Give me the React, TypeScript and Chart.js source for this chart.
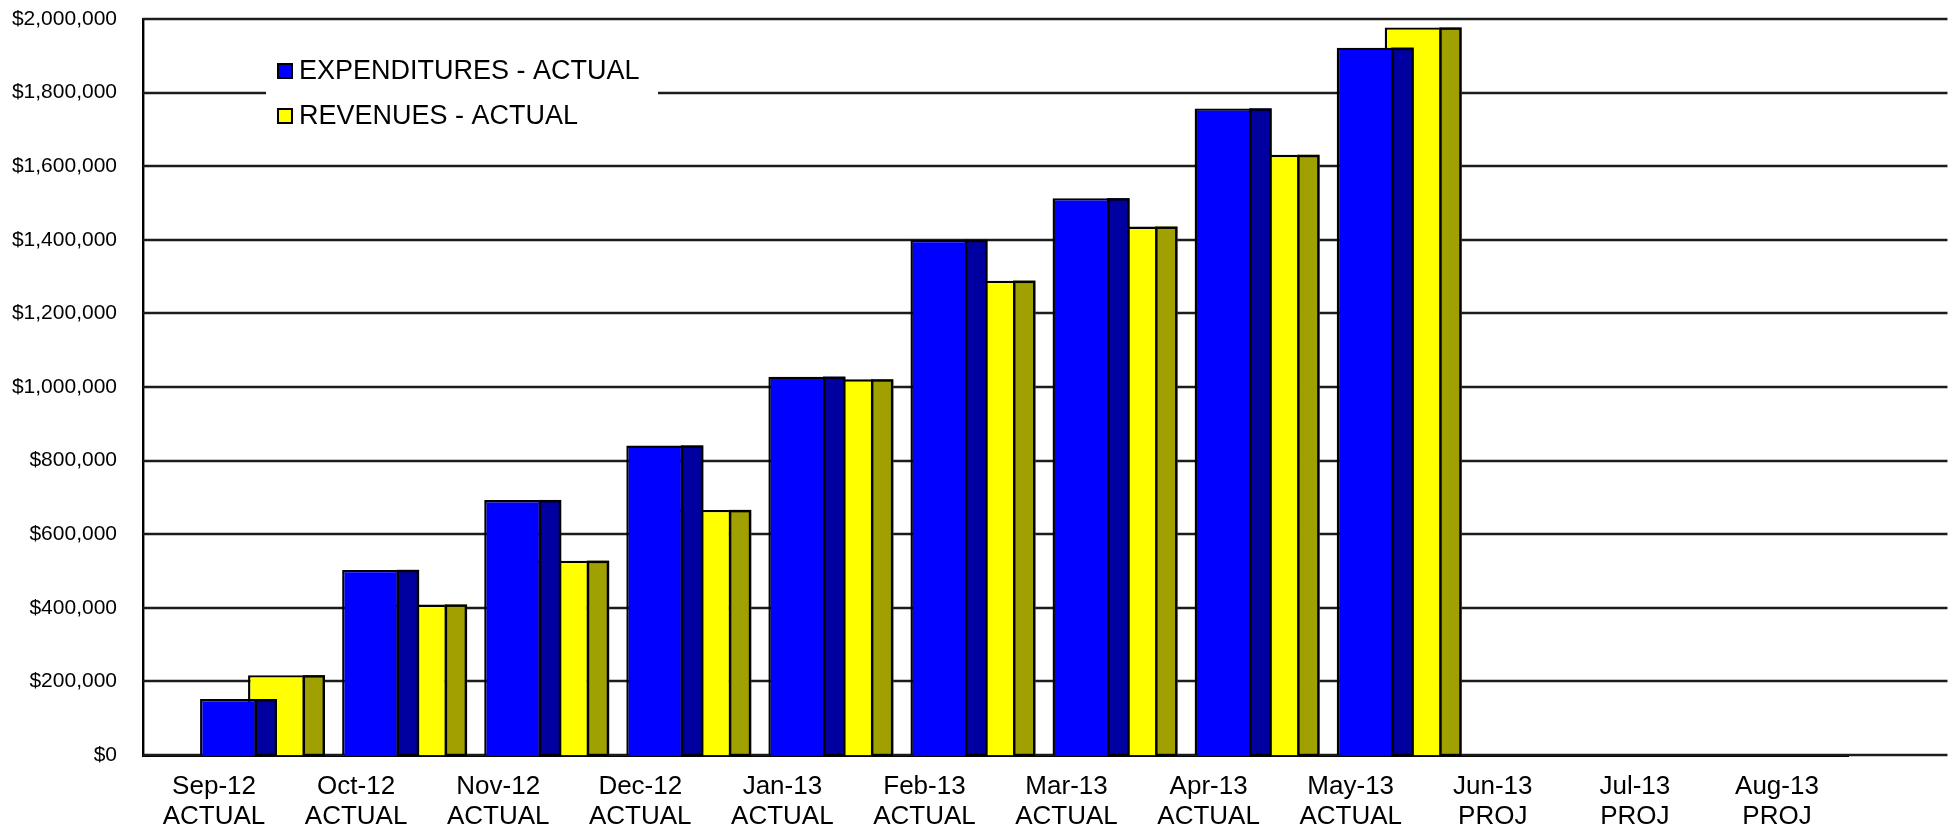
import React, { useEffect, useRef } from "react";
import { Chart, registerables } from "chart.js";

Chart.register(...registerables);

// Months on the category axis and whether each is actual or projected
const MONTHS = ["Sep-12", "Oct-12", "Nov-12", "Dec-12", "Jan-13", "Feb-13", "Mar-13", "Apr-13", "May-13", "Jun-13", "Jul-13", "Aug-13"];
const STATUS = ["ACTUAL", "ACTUAL", "ACTUAL", "ACTUAL", "ACTUAL", "ACTUAL", "ACTUAL", "ACTUAL", "ACTUAL", "PROJ", "PROJ", "PROJ"];

// Cumulative dollars per month (projected months not yet filled in)
const EXPENDITURES = [152000, 503000, 693000, 841000, 1028000, 1400000, 1513000, 1757000, 1922000, null, null, null];
const REVENUES = [217000, 409000, 528000, 666000, 1021000, 1289000, 1436000, 1631000, 1977000, null, null, null];

const SERIES_NAMES = ["EXPENDITURES - ACTUAL", "REVENUES - ACTUAL"];

// Value axis range
const Y_MIN = 0;
const Y_MAX = 2000000;
const Y_STEP = 200000;

// Styling
const FONT = "'Liberation Sans', Arial, Helvetica, sans-serif";
const FRONT_COLORS = ["#0000FF", "#FFFF00"];
const SIDE_COLORS = ["#0000A0", "#A0A000"];
const BORDER_W = 2.4;
const GRID_COLOR = "#1c1c1c";
const GRID_W = 2.4;
const SIDE_RATIO = 0.35; // side face depth relative to the bar's front width
const BAR_SHIFT = 0.271; // bars sit to the right of their category label (fraction of a category)
const GRID_RUNOUT = 0.7; // gridlines run past the category axis (fraction of a category)

const W = 1956;
const H = 828;

const money = (v: number) => "$" + Number(v).toLocaleString("en-US");

const depthPlugin = {
  id: "depthBars",
  beforeDatasetsDraw(chart: any) {
    const { ctx, chartArea, scales } = chart;
    const xs = scales.x;
    const ys = scales.y;
    const cat = xs.getPixelForValue(1) - xs.getPixelForValue(0);
    const gridEnd = chartArea.right + cat * GRID_RUNOUT;

    ctx.save();
    // horizontal gridlines, running beyond the plot's right edge
    ctx.strokeStyle = GRID_COLOR;
    ctx.lineWidth = GRID_W;
    ys.ticks.forEach((t: any) => {
      const py = Math.round(ys.getPixelForValue(t.value));
      ctx.beginPath();
      ctx.moveTo(chartArea.left, py);
      ctx.lineTo(gridEnd, py);
      ctx.stroke();
    });

    // legend panel
    const lx = chartArea.left + 123;
    const ly = chartArea.top + 29;
    const lw = 392;
    const lh = 92;
    ctx.fillStyle = "#FFFFFF";
    ctx.fillRect(lx, ly, lw, lh);
    ctx.font = `27px ${FONT}`;
    ctx.textBaseline = "middle";
    ctx.textAlign = "left";
    chart.data.datasets.forEach((ds: any, i: number) => {
      const cy = ly + 23 + i * 45;
      ctx.fillStyle = "#000";
      ctx.fillRect(lx + 11, cy - 8, 16, 16);
      ctx.fillStyle = ds.backgroundColor;
      ctx.fillRect(lx + 13, cy - 6, 12, 12);
      ctx.fillStyle = "#000";
      ctx.fillText(ds.label, lx + 33, cy + 1);
    });
    ctx.restore();

    // shift the bar groups off the label centres
    ctx.save();
    ctx.translate(cat * BAR_SHIFT, 0);
  },
  afterDatasetDraw(chart: any, args: any) {
    const ctx = chart.ctx;
    const ds = chart.data.datasets[args.index];
    args.meta.data.forEach((el: any, i: number) => {
      if (ds.data[i] == null) return;
      const { x, y, base, width } = el.getProps(["x", "y", "base", "width"], true);
      const depth = width * SIDE_RATIO;
      const xl = x + width / 2 - BORDER_W;
      const xe = x + width / 2 + depth;
      ctx.save();
      ctx.fillStyle = ds.sideColor;
      ctx.fillRect(xl, y, xe - xl, base - y);
      ctx.strokeStyle = "#000";
      ctx.lineWidth = BORDER_W;
      ctx.strokeRect(xl + BORDER_W / 2, y + BORDER_W / 2, xe - xl - BORDER_W, base - y - BORDER_W / 2);
      ctx.restore();
    });
  },
  afterDatasetsDraw(chart: any) {
    chart.ctx.restore();
  },
};

export default function App() {
  const canvasRef = useRef<HTMLCanvasElement | null>(null);

  useEffect(() => {
    const canvas = canvasRef.current;
    if (!canvas) return;

    const labels = MONTHS.map((m, i) => [m, STATUS[i]]);

    const chart = new Chart(canvas, {
      type: "bar",
      data: {
        labels,
        datasets: [
          {
            label: SERIES_NAMES[0],
            data: EXPENDITURES,
            backgroundColor: FRONT_COLORS[0],
            sideColor: SIDE_COLORS[0],
            borderColor: "#000",
            borderWidth: BORDER_W,
          } as any,
          {
            label: SERIES_NAMES[1],
            data: REVENUES,
            backgroundColor: FRONT_COLORS[1],
            sideColor: SIDE_COLORS[1],
            borderColor: "#000",
            borderWidth: BORDER_W,
          } as any,
        ],
      },
      options: {
        responsive: false,
        animation: false,
        devicePixelRatio: 1,
        layout: { padding: { top: 19, right: 108, bottom: 0, left: 0 } },
        datasets: {
          bar: {
            categoryPercentage: 0.6756,
            barPercentage: 1.1875,
          },
        },
        plugins: {
          legend: { display: false },
          tooltip: { enabled: false },
          title: { display: false },
        },
        scales: {
          x: {
            type: "category",
            offset: true,
            grid: { display: false, drawTicks: false },
            border: { display: true, color: "#000", width: 3 },
            ticks: {
              color: "#000",
              font: { family: FONT, size: 26, lineHeight: 1.15 },
              padding: 17,
              maxRotation: 0,
              autoSkip: false,
            },
            afterFit: (scale: any) => {
              scale.height = 73;
            },
          },
          y: {
            min: Y_MIN,
            max: Y_MAX,
            grid: { display: false, drawTicks: false },
            border: { display: true, color: "#000", width: 2.4 },
            ticks: {
              stepSize: Y_STEP,
              color: "#000",
              font: { family: FONT, size: 21 },
              padding: 26,
              callback: (v: any) => money(v),
            },
            afterFit: (scale: any) => {
              scale.width = 143;
              scale.paddingTop = 0;
              scale.paddingBottom = 0;
            },
          },
        },
      } as any,
      plugins: [depthPlugin],
    });

    return () => chart.destroy();
  }, []);

  return (
    <div style={{ position: "absolute", left: 0, top: 0, width: W, height: H, background: "#fff" }}>
      <canvas ref={canvasRef} width={W} height={H} />
    </div>
  );
}
